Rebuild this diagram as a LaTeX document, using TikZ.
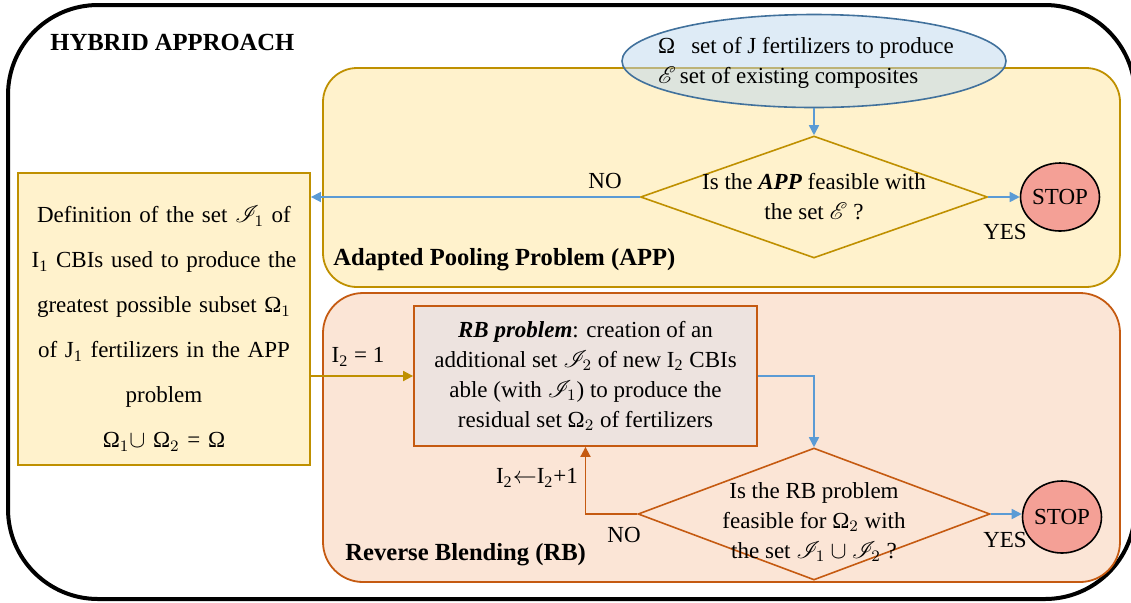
\documentclass[tikz,border=0pt]{standalone}
\usepackage{fontspec}
\setmainfont{Liberation Serif}
\usepackage{mathrsfs}
\usetikzlibrary{arrows.meta,shapes.geometric,positioning}

\definecolor{appfill}{HTML}{FFF2CC}
\definecolor{appline}{HTML}{BF9000}
\definecolor{rbfill}{HTML}{FBE5D6}
\definecolor{rbline}{HTML}{C55A11}
\definecolor{rbbox}{HTML}{EDE3DF}
\definecolor{setfill}{HTML}{BDD7EE}
\definecolor{setline}{HTML}{41719C}
\definecolor{flow}{HTML}{5B9BD5}
\definecolor{stopfill}{HTML}{F4A096}

\tikzset{
  txt/.style={font=\fontsize{11.5}{15}\selectfont, align=center, inner sep=0pt},
  title/.style={font=\fontsize{12.3}{14}\selectfont\bfseries, anchor=west, inner sep=0pt},
  zone/.style={rectangle, line width=0.9pt, inner sep=0pt},
  test/.style={diamond, inner sep=0pt, line width=0.8pt},
  stopnode/.style={ellipse, txt, draw=black, fill=stopfill, line width=0.8pt, minimum width=36pt},
  flowarrow/.style={draw=flow, line width=0.8pt, -{Triangle[length=5pt,width=5pt]}},
}

\begin{document}
\begin{tikzpicture}[x=0.5pt, y=-0.5pt]
  \useasboundingbox (0,0) rectangle (1131,602);
  % frame and the two phases
  \node[zone, draw=black, line width=2pt, rounded corners=45pt, minimum width=563.5pt, minimum height=297pt] (frame) at (571.5,302) {};
  \node[zone, draw=appline, fill=appfill, rounded corners=17pt, minimum width=398.5pt, minimum height=109.5pt] (appzone) at (721.5,177.5) {};
  \node[zone, draw=rbline, fill=rbfill, rounded corners=20pt, minimum width=398.5pt, minimum height=144.5pt] (rbzone) at (721.5,437.5) {};
  \node[title] (hybrid) at (50,42) {HYBRID APPROACH};
  \node[title] (applabel) at (333,260) {Adapted Pooling Problem (APP)};
  \node[title] (rblabel) at (345,555) {Reverse Blending (RB)};

  % input sets
  \node[ellipse, draw=setline, fill=setfill, fill opacity=0.5, line width=0.8pt, minimum width=192pt, minimum height=46.5pt, inner sep=0pt] (sets) at (814,61) {};
  \node[txt, align=left] (setstxt) at (806,63) {Ω\hspace{8pt}set of J fertilizers to produce\\$\mathscr{E}$\,set of existing composites};

  % APP test
  \node[test, draw=appline, minimum width=173.5pt, minimum height=61pt] (q1) at (814,197) {};
  \node[txt] (q1txt) at (q1) {Is the \textbf{\textit{APP}} feasible with\\the set $\mathscr{E}$ ?};
  \node[stopnode, minimum height=34pt] (stop1) at (1060,197) {STOP};

  % subset found by the APP
  \node[zone, draw=appline, fill=appfill, minimum width=146pt, minimum height=146pt, text width=142pt, align=center, font=\fontsize{11.5}{22.5}\selectfont] (defset) at (164,319)
    {\rule{0pt}{18pt}Definition of the set $\mathscr{I}_1$ of\\I\textsubscript{1} CBIs used to produce the\\greatest possible subset Ω$_1$\\of J\textsubscript{1} fertilizers in the APP\\problem\\Ω$_1\cup$ Ω$_2$ = Ω};

  % RB loop
  \node[zone, txt, draw=rbline, fill=rbbox, minimum width=171.5pt, minimum height=70pt] (rbstep) at (585.5,376)
    {\textbf{\textit{RB problem}}: creation of an\\additional set $\mathscr{I}_2$ of new I\textsubscript{2} CBIs\\able (with $\mathscr{I}_1$) to produce the\\residual set Ω$_2$ of fertilizers};
  \node[test, draw=rbline, minimum width=176pt, minimum height=66pt] (q2) at (814,514) {};
  \node[txt] (q2txt) at (814,522) {Is the RB problem\\feasible for Ω$_2$ with\\the set $\mathscr{I}_1\cup\mathscr{I}_2$ ?};
  \node[stopnode, minimum height=36pt] (stop2) at (1062,517) {STOP};

  % connectors
  \draw[flowarrow] (sets.south) -- (q1.north);
  \draw[flowarrow] (q1.west) -- (q1.west -| defset.east);
  \draw[flowarrow] (q1.east) -- (stop1);
  \draw[flowarrow] (rbstep.east) -| (q2.north);
  \draw[flowarrow] (q2.east) -- (stop2.west |- q2.east);
  \draw[draw=appline, line width=0.9pt, -{Triangle[length=5pt,width=5pt]}] (defset.east |- rbstep.west) -- (rbstep.west);
  \draw[draw=rbline, line width=0.9pt, -{Triangle[length=5pt,width=5pt]}] (q2.west) -| (rbstep.south);

  % answers
  \foreach \name/\x/\y/\answer in {no1/605/181/NO, yes1/1005/232/YES, no2/624/535/NO, yes2/1005/540/YES}
    \node[txt] (\name) at (\x,\y) {\answer};
  \node[txt] (init) at (358,357) {I\textsubscript{2} = 1};
  \node[txt] (incr) at (537,478) {I\textsubscript{2}$\leftarrow$I\textsubscript{2}+1};
\end{tikzpicture}
\end{document}
